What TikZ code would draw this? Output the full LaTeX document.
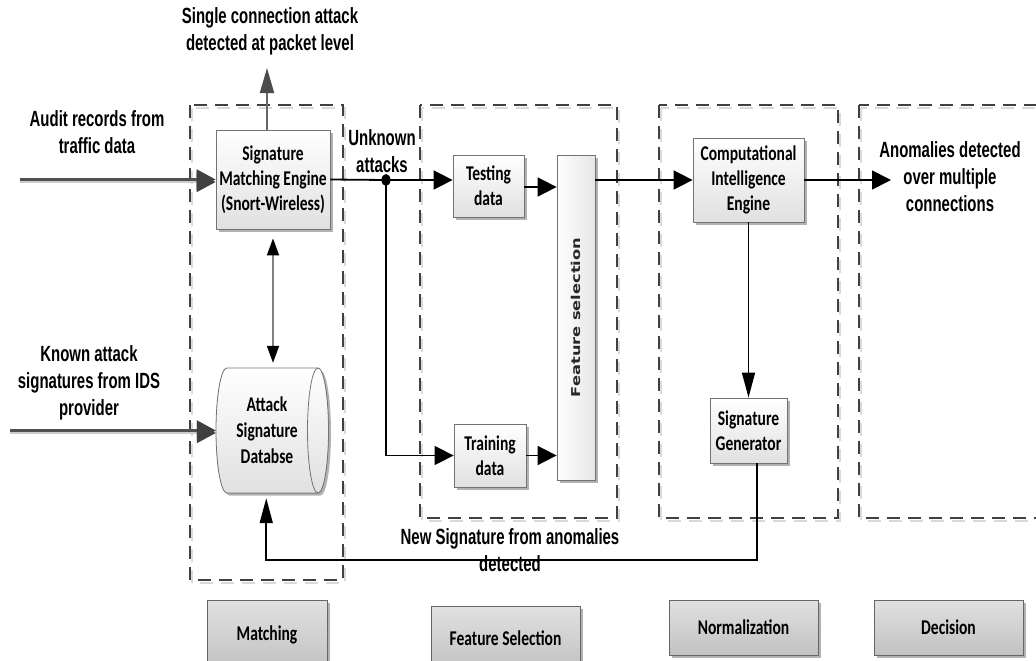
\documentclass[tikz,border=0pt]{standalone}
\usepackage{fontspec}
\usetikzlibrary{arrows.meta,shadows,calc}
\newfontfamily\labelfont[FakeStretch=0.68]{Liberation Sans}
\newfontfamily\boxfont[FakeStretch=0.74]{Carlito}
\newfontfamily\barfont[FakeStretch=1.33]{DejaVu Sans}
\definecolor{dashgray}{HTML}{404040}
\definecolor{inputgray}{HTML}{505050}
\begin{document}
\begin{tikzpicture}[x=1pt,y=-1pt,
  stage/.style={draw=dashgray, line width=2.2pt, dash pattern=on 13pt off 8pt},
  stageshade/.style={draw=black!15, line width=2pt, dash pattern=on 13pt off 8pt},
  boxshadow/.style={drop shadow={shadow xshift=2.5pt,shadow yshift=-2.5pt,fill=black!30,opacity=1}},
  proc/.style={draw=black!55, line width=0.8pt, top color=white, bottom color=black!12,
    boxshadow, inner sep=0pt, align=center, text=black,
    font=\boxfont\bfseries\fontsize{21}{25}\selectfont},
  phase/.style={draw=black!60, line width=0.8pt, top color=black!12, bottom color=black!24,
    boxshadow, inner sep=0pt, align=center, text=black,
    font=\boxfont\bfseries\fontsize{21}{25}\selectfont},
  lbl/.style={inner sep=0pt, align=center, font=\labelfont\bfseries\fontsize{22}{27}\selectfont},
  flow/.style={line width=1.8pt, draw=black},
  htip/.style={-{Triangle[length=19pt,width=19pt]}},
  vtip/.style={-{Triangle[length=25pt,width=13pt]}},
  input/.style={line width=2.2pt, draw=inputgray,
    preaction={draw=black!20, line width=2pt, transform canvas={yshift=-2.5pt}},
    -{Triangle[length=19pt,width=20pt,color=dashgray]}},
]
\useasboundingbox (0,0) rectangle (1036,661);
\clip (0,0) rectangle (1036,661);

% stage frames (light offset copy first)
\draw[stageshade] (192,108) rectangle (345,583);
\draw[stageshade] (422,108) rectangle (619,521);
\draw[stageshade] (661,108) rectangle (840,521);
\draw[stageshade] (861,108) rectangle (1060,521);
\draw[stage] (190,105) rectangle (343,580);
\draw[stage] (420,105) rectangle (617,518);
\draw[stage] (659,105) rectangle (838,518);
\draw[stage] (859,105) rectangle (1060,518);

% processing blocks
\node[proc, minimum width=114, minimum height=99] (eng) at (273,179.5)
  {Signature\\Matching Engine\\(Snort-Wireless)};
\node[proc, minimum width=71, minimum height=62] (test) at (488.5,186) {Testing\\data};
\node[proc, minimum width=72, minimum height=63] (train) at (490,455.5) {Training\\data};
\node[proc, left color=white, right color=black!10, minimum width=38, minimum height=325] (fs) at (576,317.5) {};
\node[inner sep=0pt, rotate=90, text=black!85, font=\barfont\bfseries\fontsize{12.2}{14}\selectfont]
  (fstext) at (fs.center) {Feature selection};
\node[proc, minimum width=111, minimum height=84] (cie) at (748.5,180)
  {Computational\\Intelligence\\Engine};
\node[proc, minimum width=77, minimum height=65] (gen) at (748.5,430.5) {Signature\\Generator};

% signature database drawn as a horizontal cylinder
\node[inner sep=0pt, minimum width=112.5, minimum height=125] (db) at (272.25,430.5) {};
\filldraw[draw=black!55, line width=0.8pt, top color=white, bottom color=black!12, boxshadow]
  (227,368) -- (318,368)
  .. controls (323.8,368) and (328.5,396) .. (328.5,430.5)
  .. controls (328.5,465) and (323.8,493) .. (318,493)
  -- (227,493)
  .. controls (220.9,493) and (216,465) .. (216,430.5)
  .. controls (216,396) and (220.9,368) .. (227,368) -- cycle;
\draw[black!55, line width=0.8pt]
  (318,493) .. controls (312.2,493) and (307.5,465) .. (307.5,430.5)
  .. controls (307.5,396) and (312.2,368) .. (318,368);
\node[inner sep=0pt, align=center, text=black, font=\boxfont\bfseries\fontsize{21}{26}\selectfont]
  (dbtext) at (267,430.5) {Attack\\Signature\\Databse};

% phase captions
\node[phase, minimum width=120, minimum height=70] (pmatch) at (267,635) {Matching};
\node[phase, minimum width=149, minimum height=64] (pfeat) at (505.5,638) {Feature Selection};
\node[phase, minimum width=149, minimum height=55] (pnorm) at (743.5,627.5) {Normalization};
\node[phase, minimum width=149, minimum height=55] (pdec) at (948.5,627.5) {Decision};

% free text
\node[lbl] (single) at (270,31) {Single connection attack\\detected at packet level};
\node[lbl] (audit) at (97,132) {Audit records from\\traffic data};
\node[lbl] (known) at (89,383) {Known attack\\signatures from IDS\\provider};
\node[lbl] (unknown) at (382,151) {Unknown\\attacks};
\node[lbl] (anom) at (950,177) {Anomalies detected\\over multiple\\connections};
\node[lbl] (newsig) at (510,550) {New Signature from anomalies\\detected};

% helper points
\coordinate (singletip) at (267,68);
\coordinate (auditsrc) at (20,179.5);
\coordinate (knownsrc) at (10,430.5);
\coordinate (dot) at (386,180);
\coordinate (outtip) at (891,180);
\coordinate (fbrow) at (0,560);

% inputs
\draw[input] (auditsrc) -- (eng.west);
\draw[input] (knownsrc) -- (db.west);

% alert output of the matching engine
\draw[line width=1.8pt, draw=black!60, -{Triangle[length=25pt,width=14pt,color=black!70]}]
  (singletip |- eng.north) -- (singletip);

% engine <-> database
\draw[line width=1.8pt, draw=black!50,
  {Triangle[length=17pt,width=12pt,color=black]}-{Triangle[length=17pt,width=12pt,color=black]},
  shorten <=9pt, shorten >=5pt] (eng.south) -- (eng.south |- db.north);

% unknown attacks split
\draw[flow] (eng.east) -- (dot);
\draw[flow, htip] (dot) -- (dot -| test.west);
\draw[line width=1.5pt, htip] (dot) |- (train.west);
\fill (dot) ellipse [x radius=4.5pt, y radius=6pt];

% into feature selection
\draw[flow, htip] (test.east |- 0,187) -- (fs.west |- 0,187);
\draw[flow, htip] (train.east) -- (train.east -| fs.west);

% to the intelligence engine and out
\draw[flow, htip] (fs.east |- cie.west) -- (cie.west);
\draw[flow, htip] (cie.east) -- (outtip);
\draw[line width=1.5pt, vtip] (cie.south) -- (gen.north);

% new signatures back to the database
\draw[line width=1.7pt, vtip, shorten >=5pt]
  ([xshift=8.5pt]gen.south) |- ([xshift=-6pt]db.south |- fbrow) -- ([xshift=-6pt]db.south);
\end{tikzpicture}
\end{document}
